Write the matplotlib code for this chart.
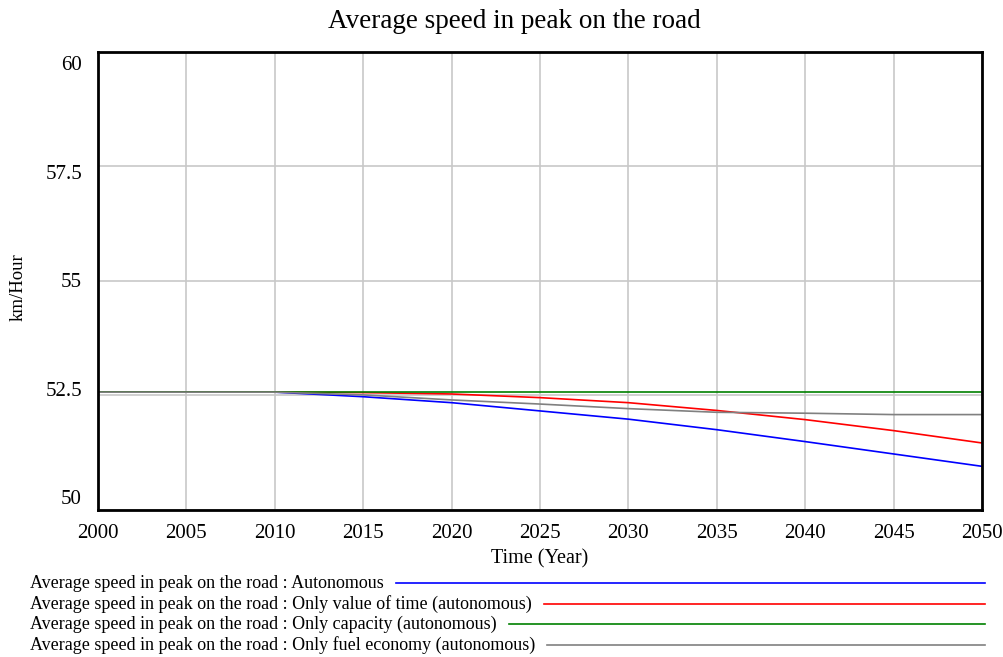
import matplotlib
matplotlib.use("Agg")
import matplotlib.pyplot as plt
from matplotlib.lines import Line2D

plt.rcParams['font.family'] = ['Liberation Serif', 'DejaVu Serif']

# values (km/Hour)
years = [2000, 2005, 2010, 2015, 2020, 2025, 2030, 2035, 2040, 2045, 2050]
autonomous = [52.57, 52.57, 52.57, 52.47, 52.34, 52.16, 51.98, 51.75, 51.49, 51.22, 50.95]
value_of_time = [52.57, 52.57, 52.57, 52.56, 52.53, 52.45, 52.34, 52.17, 51.97, 51.73, 51.46]
capacity = [52.57, 52.57, 52.57, 52.57, 52.57, 52.57, 52.57, 52.57, 52.57, 52.57, 52.57]
fuel_economy = [52.57, 52.57, 52.57, 52.51, 52.40, 52.31, 52.21, 52.13, 52.11, 52.08, 52.08]

y_ticks = [50, 52.5, 55, 57.5, 60]
y_tick_labels = ["50", "52.5", "55", "57.5", "60"]

series = [
    ("Average speed in peak on the road : Autonomous", autonomous, "#0000ff"),
    ("Average speed in peak on the road : Only value of time (autonomous)", value_of_time, "#ff0000"),
    ("Average speed in peak on the road : Only capacity (autonomous)", capacity, "#008000"),
    ("Average speed in peak on the road : Only fuel economy (autonomous)", fuel_economy, "#808080"),
]

fig = plt.figure(figsize=(10.04, 6.57), dpi=100)
W, H = fig.bbox.width, fig.bbox.height
ax = fig.add_axes([0.0976, 0.224, 0.8805, 0.697])

for label, vals, col in series:
    ax.plot(years, vals, color=col, lw=1.2)

ax.set_xlim(2000, 2050)
ax.set_ylim(50, 60)
ax.set_xticks(range(2000, 2051, 5))
ax.set_yticks(y_ticks)
ax.set_yticklabels([])
ax.grid(True, color="#c8c8c8", lw=1.2)
ax.set_axisbelow(True)
ax.tick_params(length=0, labelsize=15)
ax.tick_params(axis="x", pad=10)
for s in ax.spines.values():
    s.set_linewidth(2)
    s.set_color("black")

# y labels are spread a little inside the frame, like the original tool does
for v, txt in zip(y_ticks, y_tick_labels):
    frac = 0.022 + 0.948 * (v - y_ticks[0]) / (y_ticks[-1] - y_ticks[0])
    ax.text(-16 / 884, frac, txt, transform=ax.transAxes, fontsize=15,
            ha="right", va="center")

fig.text(514 / W, 1 - 21 / H, "Average speed in peak on the road",
         fontsize=19.5, ha="center", va="center")
ax.set_xlabel("Time (Year)", fontsize=14.5, labelpad=5)
fig.text(18 / W, 1 - 287 / H, "km/Hour", fontsize=13.5, rotation=90,
         ha="center", va="center")

# legend rows drawn below the chart
fig.canvas.draw()
renderer = fig.canvas.get_renderer()
row_y = [583, 604, 624, 645]
for (label, vals, col), py in zip(series, row_y):
    t = fig.text(30 / W, 1 - py / H, label, fontsize=13, va="center", ha="left")
    bb = t.get_window_extent(renderer)
    x0 = (bb.x1 + 12) / W
    fig.add_artist(Line2D([x0, 985 / W], [1 - py / H, 1 - py / H],
                          color=col, lw=1.2, transform=fig.transFigure))

fig.savefig("out.png", dpi=100)
